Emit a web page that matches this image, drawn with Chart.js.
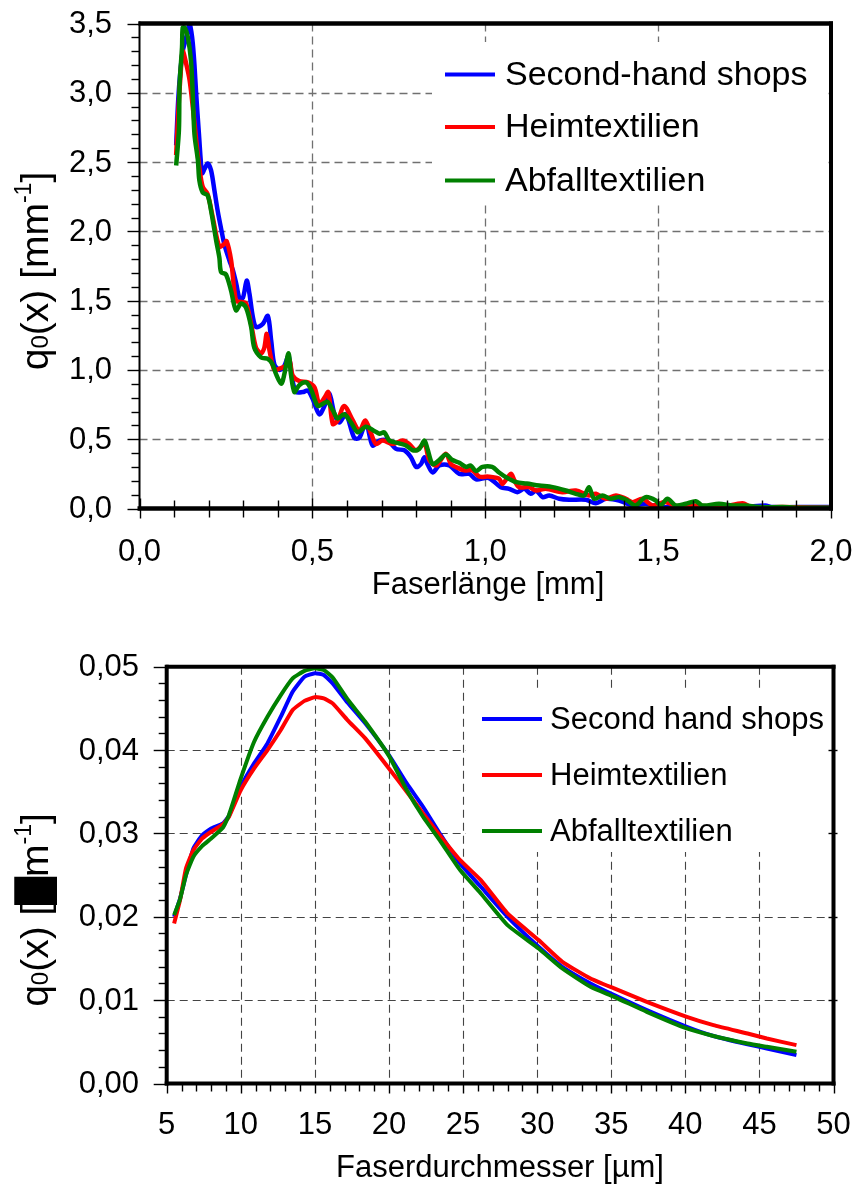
<!DOCTYPE html>
<html><head><meta charset="utf-8">
<script src="https://cdn.jsdelivr.net/npm/chart.js@4.4.1/dist/chart.umd.min.js"></script>
<style>
html,body{margin:0;padding:0;background:#fff;}
#wrap{position:relative;width:856px;height:1195px;background:#fff;}
canvas{position:absolute;left:0;}
#c1{top:0}
#c2{top:610px}
</style></head><body>
<div id="wrap"><canvas id="c1" width="856" height="610"></canvas><canvas id="c2" width="856" height="585"></canvas></div>
<script>
// ---------- DATA ----------
const legendTop = ['Second-hand shops','Heimtextilien','Abfalltextilien'];
const legendBottom = ['Second hand shops','Heimtextilien','Abfalltextilien'];
const colors = ['#0000FF','#FF0000','#008000'];

const lengthTickLabels = ['0,0','0,5','1,0','1,5','2,0'];
const qLenTickLabels = ['0,0','0,5','1,0','1,5','2,0','2,5','3,0','3,5'];
const diamTickLabels = ['5','10','15','20','25','30','35','40','45','50'];
const qDiamTickLabels = ['0,00','0,01','0,02','0,03','0,04','0,05'];

// Top chart: fibre length [mm] vs q0(x) [mm^-1]
const shopsLenX = [0.106,0.112,0.118,0.125,0.133,0.140,0.145,0.150,0.154,0.159,0.164,0.172,0.181,0.188,0.197,0.207,0.217,0.226,0.236,0.246,0.260,0.270,0.280,0.289,0.299,0.310,0.318,0.328,0.337,0.356,0.371,0.381,0.390,0.405,0.419,0.431,0.443,0.453,0.472,0.487,0.501,0.520,0.535,0.549,0.564,0.578,0.597,0.621,0.636,0.655,0.674,0.694,0.718,0.742,0.766,0.785,0.800,0.814,0.824,0.833,0.848,0.867,0.896,0.925,0.954,0.973,1.010,1.045,1.069,1.093,1.113,1.132,1.147,1.166,1.185,1.214,1.243,1.291,1.320,1.349,1.387,1.426,1.464,1.503,1.561,1.657,1.750,1.810,1.830,1.900,2.000];
const shopsLenY = [2.62,2.95,3.15,3.30,3.38,3.45,3.50,3.44,3.36,3.20,2.99,2.70,2.42,2.45,2.49,2.44,2.29,2.15,2.02,1.90,1.79,1.72,1.62,1.52,1.52,1.645,1.55,1.38,1.31,1.33,1.39,1.21,1.04,1.00,1.03,1.10,0.92,0.84,0.84,0.85,0.79,0.68,0.74,0.83,0.68,0.62,0.68,0.51,0.51,0.62,0.455,0.49,0.49,0.43,0.42,0.37,0.30,0.32,0.37,0.32,0.26,0.31,0.31,0.25,0.25,0.21,0.22,0.154,0.142,0.118,0.142,0.106,0.13,0.082,0.094,0.07,0.063,0.063,0.038,0.07,0.058,0.022,0.034,0.01,0.01,0.003,0.01,0.022,0.01,0.01,0.01];

const heimLenX = [0.106,0.112,0.118,0.125,0.135,0.145,0.154,0.164,0.173,0.183,0.197,0.212,0.231,0.246,0.252,0.265,0.279,0.294,0.308,0.323,0.337,0.352,0.361,0.368,0.376,0.390,0.405,0.424,0.434,0.443,0.462,0.487,0.506,0.520,0.535,0.546,0.559,0.573,0.592,0.617,0.636,0.653,0.670,0.684,0.703,0.732,0.761,0.780,0.800,0.824,0.838,0.858,0.886,0.901,0.915,0.939,0.963,0.983,1.010,1.040,1.050,1.074,1.085,1.098,1.127,1.147,1.175,1.223,1.262,1.300,1.320,1.349,1.378,1.407,1.426,1.455,1.484,1.520,1.561,1.609,1.680,1.744,1.770,1.860,2.000];
const heimLenY = [2.55,2.85,3.10,3.30,3.21,3.09,2.90,2.66,2.46,2.32,2.27,2.10,1.89,1.91,1.93,1.79,1.50,1.49,1.48,1.33,1.16,1.12,1.16,1.26,1.14,1.00,1.01,1.03,1.07,0.96,0.92,0.91,0.875,0.755,0.80,0.84,0.61,0.635,0.74,0.635,0.56,0.635,0.54,0.465,0.49,0.465,0.49,0.465,0.42,0.465,0.35,0.31,0.395,0.32,0.30,0.275,0.275,0.23,0.23,0.215,0.178,0.25,0.20,0.154,0.154,0.13,0.142,0.118,0.13,0.094,0.106,0.07,0.094,0.07,0.046,0.07,0.022,0.046,0.01,0.022,0.01,0.038,0.01,0.01,0.005];

const abfallLenX = [0.106,0.114,0.116,0.123,0.125,0.131,0.140,0.149,0.154,0.159,0.169,0.173,0.183,0.197,0.207,0.222,0.231,0.236,0.250,0.265,0.279,0.294,0.308,0.323,0.332,0.352,0.371,0.385,0.395,0.410,0.419,0.431,0.438,0.448,0.462,0.482,0.496,0.515,0.530,0.544,0.559,0.573,0.592,0.612,0.631,0.655,0.679,0.694,0.708,0.723,0.751,0.771,0.790,0.809,0.824,0.833,0.848,0.867,0.886,0.905,0.925,0.944,0.958,0.973,0.992,1.020,1.040,1.060,1.090,1.120,1.156,1.195,1.233,1.262,1.286,1.300,1.315,1.339,1.363,1.387,1.411,1.435,1.464,1.493,1.507,1.527,1.551,1.580,1.609,1.628,1.676,1.715,1.753,1.790,1.860,1.920,2.000];
const abfallLenY = [2.475,2.73,3.06,3.33,3.47,3.47,3.40,3.23,2.99,2.70,2.51,2.37,2.28,2.26,2.15,1.93,1.81,1.705,1.69,1.57,1.43,1.48,1.45,1.31,1.16,1.09,1.08,1.04,0.97,0.90,0.97,1.12,0.97,0.84,0.89,0.91,0.86,0.74,0.755,0.77,0.71,0.65,0.68,0.62,0.55,0.59,0.56,0.54,0.55,0.49,0.47,0.455,0.42,0.43,0.49,0.43,0.32,0.35,0.39,0.35,0.33,0.30,0.31,0.27,0.30,0.30,0.26,0.226,0.19,0.18,0.166,0.154,0.13,0.106,0.094,0.154,0.07,0.094,0.07,0.082,0.058,0.022,0.082,0.058,0.022,0.07,0.022,0.034,0.053,0.022,0.034,0.022,0.022,0.01,0.01,0.005,0.005];

// Bottom chart: fibre diameter [µm] vs q0(x)
const diameters = [5.5,5.9,6.3,6.8,7.4,8.0,8.8,9.2,10.0,10.9,11.8,12.7,13.5,14.3,15.0,15.6,16.2,17.2,18.4,20.0,21.2,22.3,23.5,24.8,26.2,28.0,30.1,31.7,33.6,35.2,37.4,40.1,41.9,44.2,45.5,47.5];
const shopsDiam = [0.0200,0.0222,0.0250,0.0282,0.0298,0.0306,0.0312,0.0321,0.0356,0.0384,0.0408,0.0440,0.0470,0.0488,0.04922,0.0490,0.0480,0.0457,0.0432,0.0394,0.0360,0.0332,0.0298,0.0264,0.0236,0.0200,0.0164,0.0140,0.0120,0.0106,0.0088,0.0068,0.0057,0.0047,0.0042,0.0034];
const heimDiam = [0.0192,0.0220,0.0258,0.0280,0.0294,0.0302,0.0311,0.0320,0.0352,0.0378,0.0400,0.0424,0.0448,0.0459,0.04635,0.0462,0.0456,0.0436,0.0414,0.0378,0.0350,0.0324,0.0296,0.0268,0.0244,0.0204,0.0172,0.0146,0.0126,0.0114,0.0098,0.0080,0.0070,0.0060,0.0054,0.0046];
const abfallDiam = [0.0202,0.0221,0.0250,0.0272,0.0285,0.0294,0.0307,0.0322,0.0366,0.0410,0.0440,0.0466,0.0486,0.0495,0.0498,0.0496,0.0487,0.0461,0.0434,0.0393,0.0352,0.0320,0.0290,0.0256,0.0228,0.0190,0.0162,0.0138,0.0116,0.0104,0.0086,0.0066,0.0057,0.0048,0.0044,0.0038];

// ---------- helpers ----------
const FONT = '"Liberation Sans", Arial, Helvetica, sans-serif';
const pts = (xs, ys) => xs.map((x, i) => ({x, y: ys[i]}));

function richRotated(ctx, cx, cy, pieces, base) {
  ctx.save();
  ctx.translate(cx, cy);
  ctx.rotate(-Math.PI / 2);
  ctx.fillStyle = '#000';
  ctx.textBaseline = 'alphabetic';
  ctx.textAlign = 'left';
  let W = 0;
  pieces.forEach(p => { ctx.font = p.s + 'px ' + (p.f || FONT); p.w = ctx.measureText(p.t).width; W += p.w; });
  let x = -W / 2;
  pieces.forEach(p => { ctx.font = p.s + 'px ' + (p.f || FONT); ctx.fillText(p.t, x, base + (p.dy || 0)); x += p.w; });
  ctx.restore();
}

function makeDeco(cfg) {
  return {
    id: 'deco',
    beforeDatasetsDraw(chart) {
      const ctx = chart.ctx, a = chart.chartArea, xs = chart.scales.x, ys = chart.scales.y;
      ctx.save();
      ctx.strokeStyle = cfg.gridColor; ctx.lineWidth = cfg.gridWidth; ctx.setLineDash(cfg.gridDash);
      xs.ticks.forEach(t => {
        if (t.value <= xs.min || t.value >= xs.max) return;
        const px = Math.round(xs.getPixelForValue(t.value)) + 0.5;
        ctx.beginPath(); ctx.moveTo(px, a.top); ctx.lineTo(px, a.bottom); ctx.stroke();
      });
      ys.ticks.forEach(t => {
        if (t.value <= ys.min || t.value >= ys.max) return;
        const py = Math.round(ys.getPixelForValue(t.value)) + 0.5;
        ctx.beginPath(); ctx.moveTo(a.left, py); ctx.lineTo(a.right, py); ctx.stroke();
      });
      ctx.setLineDash([]);
      ctx.fillStyle = '#fff';
      const b = cfg.legend.box; ctx.fillRect(b[0], b[1], b[2], b[3]);
      ctx.restore();
    },
    afterDraw(chart) {
      const ctx = chart.ctx, a = chart.chartArea, xs = chart.scales.x, ys = chart.scales.y;
      ctx.save();
      ctx.strokeStyle = '#000'; ctx.setLineDash([]);
      // frame
      const f = cfg.frame;
      ctx.lineWidth = f.top; ctx.beginPath(); ctx.moveTo(a.left - 1, a.top); ctx.lineTo(a.right + 2, a.top); ctx.stroke();
      ctx.lineWidth = f.right; ctx.beginPath(); ctx.moveTo(a.right, a.top - 2); ctx.lineTo(a.right, a.bottom + 2); ctx.stroke();
      ctx.lineWidth = f.bottom; ctx.beginPath(); ctx.moveTo(a.left - 2, a.bottom); ctx.lineTo(a.right + 2, a.bottom); ctx.stroke();
      ctx.lineWidth = f.left; ctx.beginPath(); ctx.moveTo(a.left, a.top - 2); ctx.lineTo(a.left, a.bottom + 2); ctx.stroke();
      // x ticks
      ctx.lineWidth = 1.4;
      let n = Math.round((xs.max - xs.min) / cfg.xMinor);
      for (let i = 0; i <= n; i++) {
        const v = xs.min + i * cfg.xMinor;
        const px = Math.round(xs.getPixelForValue(v)) + 0.5;
        const major = i % cfg.xEvery === 0;
        const r = major ? cfg.xTickMajor : cfg.xTickMinor;
        ctx.beginPath(); ctx.moveTo(px, a.bottom + r[0]); ctx.lineTo(px, a.bottom + r[1]); ctx.stroke();
      }
      n = Math.round((ys.max - ys.min) / cfg.yMinor);
      for (let i = 0; i <= n; i++) {
        const v = ys.min + i * cfg.yMinor;
        const py = Math.round(ys.getPixelForValue(v)) + 0.5;
        const major = i % cfg.yEvery === 0;
        const r = major ? cfg.yTickMajor : cfg.yTickMinor;
        ctx.beginPath(); ctx.moveTo(a.left + r[0], py); ctx.lineTo(a.left + r[1], py); ctx.stroke();
        if (major && cfg.rightTicks && i > 0 && i < n) {
          ctx.beginPath(); ctx.moveTo(a.right - 5, py); ctx.lineTo(a.right + 4, py); ctx.stroke();
        }
      }
      // tick labels
      ctx.fillStyle = '#000';
      ctx.font = cfg.tickFont + 'px ' + FONT;
      ctx.textAlign = 'center'; ctx.textBaseline = 'middle';
      xs.ticks.forEach((t, i) => ctx.fillText(cfg.xLabels[i], xs.getPixelForValue(t.value), cfg.xLabelY));
      ctx.textAlign = 'right';
      ys.ticks.forEach((t, i) => ctx.fillText(cfg.yLabels[i], cfg.yLabelRight, ys.getPixelForValue(t.value) + 1));
      // x title
      ctx.textAlign = 'center';
      ctx.font = cfg.titleFont + 'px ' + FONT;
      ctx.fillText(cfg.xTitle, cfg.xTitleX, cfg.xTitleY);
      // y title
      richRotated(ctx, cfg.yTitleX, cfg.yTitleY, cfg.yTitle, cfg.yTitleBase);
      // legend
      const L = cfg.legend;
      chart.data.datasets.forEach((ds, i) => {
        ctx.strokeStyle = ds.borderColor; ctx.lineWidth = L.lw; ctx.lineCap = 'butt';
        ctx.beginPath(); ctx.moveTo(L.x0, L.ys[i]); ctx.lineTo(L.x1, L.ys[i]); ctx.stroke();
        ctx.fillStyle = '#000'; ctx.font = L.font + 'px ' + FONT; ctx.textAlign = 'left'; ctx.textBaseline = 'middle';
        ctx.fillText(ds.label, L.tx, L.ys[i] + 1);
      });
      ctx.restore();
    }
  };
}

function makeChart(id, datasets, xr, yr, pad, deco) {
  return new Chart(document.getElementById(id), {
    type: 'line',
    data: { datasets },
    options: {
      responsive: false, animation: false, devicePixelRatio: 1,
      layout: { padding: pad },
      plugins: { legend: { display: false }, tooltip: { enabled: false } },
      elements: { point: { radius: 0 } },
      scales: {
        x: { type: 'linear', min: xr[0], max: xr[1], ticks: { stepSize: xr[2], display: false }, grid: { display: false, drawTicks: false }, border: { display: false } },
        y: { type: 'linear', min: yr[0], max: yr[1], ticks: { stepSize: yr[2], display: false }, grid: { display: false, drawTicks: false }, border: { display: false } }
      }
    },
    plugins: [makeDeco(deco)]
  });
}

// ---------- chart 1 ----------
const ds1 = [
  { label: legendTop[0], data: pts(shopsLenX, shopsLenY), borderColor: colors[0], borderWidth: 4.5, tension: 0.3, order: 2 },
  { label: legendTop[1], data: pts(heimLenX, heimLenY), borderColor: colors[1], borderWidth: 4.5, tension: 0.3, order: 1 },
  { label: legendTop[2], data: pts(abfallLenX, abfallLenY), borderColor: colors[2], borderWidth: 4.5, tension: 0.3, order: 0 }
];
makeChart('c1', ds1, [0, 2, 0.5], [0, 3.5, 0.5], { left: 139.5, right: 25, top: 23.5, bottom: 101.5 }, {
  gridColor: '#707070', gridWidth: 1.3, gridDash: [8, 5],
  frame: { top: 4.5, right: 4, bottom: 4.5, left: 2 },
  xMinor: 0.1, xEvery: 5, xTickMajor: [-10, 10], xTickMinor: [-8, 9],
  yMinor: 0.1, yEvery: 5, yTickMajor: [-12, 0], yTickMinor: [-8, 0],
  rightTicks: false,
  tickFont: 31, xLabels: lengthTickLabels, yLabels: qLenTickLabels, xLabelY: 552, yLabelRight: 112,
  titleFont: 31, xTitle: 'Faserlänge [mm]', xTitleX: 488, xTitleY: 585,
  yTitleX: 35, yTitleY: 271, yTitleBase: 13,
  yTitle: [{ t: 'q', s: 39 }, { t: '0', s: 24 }, { t: '(x) [mm', s: 39 }, { t: '-1', s: 23, dy: -17 }, { t: ']', s: 39 }],
  legend: { box: [432, 42, 394, 163], x0: 445, x1: 495, ys: [74.5, 127, 180.5], tx: 505, font: 34, lw: 4 }
});

// ---------- chart 2 ----------
const ds2 = [
  { label: legendBottom[0], data: pts(diameters, shopsDiam), borderColor: colors[0], borderWidth: 4, tension: 0.15, order: 2 },
  { label: legendBottom[1], data: pts(diameters, heimDiam), borderColor: colors[1], borderWidth: 4, tension: 0.15, order: 1 },
  { label: legendBottom[2], data: pts(diameters, abfallDiam), borderColor: colors[2], borderWidth: 4, tension: 0.15, order: 0 }
];
makeChart('c2', ds2, [5, 50, 5], [0, 0.05, 0.01], { left: 166.7, right: 22.5, top: 56.7, bottom: 111.5 }, {
  gridColor: '#444', gridWidth: 1.1, gridDash: [8, 5],
  frame: { top: 4, right: 4, bottom: 4, left: 4 },
  xMinor: 1, xEvery: 5, xTickMajor: [0, 10], xTickMinor: [0, 8],
  yMinor: 0.002, yEvery: 5, yTickMajor: [-13, 0], yTickMinor: [-8, 0],
  rightTicks: true,
  tickFont: 31, xLabels: diamTickLabels, yLabels: qDiamTickLabels, xLabelY: 515, yLabelRight: 139,
  titleFont: 31, xTitle: 'Faserdurchmesser [µm]', xTitleX: 500, xTitleY: 558,
  yTitleX: 35, yTitleY: 300, yTitleBase: 13,
  yTitle: [{ t: 'q', s: 39 }, { t: '0', s: 24 }, { t: '(x) [', s: 39 }, { t: '█', s: 36, f: '"DejaVu Sans", sans-serif' }, { t: 'm', s: 39 }, { t: '-1', s: 23, dy: -17 }, { t: ']', s: 39 }],
  legend: { box: [466, 78, 364, 164], x0: 482, x1: 542, ys: [109, 165, 221], tx: 550, font: 31, lw: 4 }
});
</script>
</body></html>
